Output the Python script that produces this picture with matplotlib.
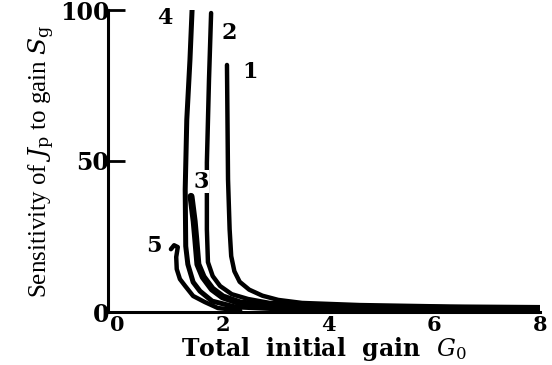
import matplotlib
matplotlib.use("Agg")
import matplotlib.pyplot as plt

plt.rcParams["mathtext.fontset"] = "dejavuserif"

# Data (G0, S_g)
g1 = [2.08, 2.10, 2.13, 2.16, 2.22, 2.32, 2.50, 2.75, 3.05, 3.50, 4.59, 6.3, 8.0]
s1 = [81.8, 43.9, 27.4, 18.5, 13.5, 10.0, 7.4, 5.4, 4.0, 3.0, 2.3, 1.8, 1.6]

g2 = [1.78, 1.74, 1.70, 1.70, 1.70, 1.72, 1.81, 1.95, 2.17, 2.48, 2.89, 4.40, 8.0]
s2 = [99.0, 76.9, 49.5, 38.3, 27.4, 16.5, 11.9, 8.6, 5.9, 4.3, 3.0, 2.0, 1.3]

g3 = [1.40, 1.46, 1.49, 1.53, 1.63, 1.80, 2.00, 2.33, 3.08, 5.35, 8.0]
s3 = [38.3, 30.0, 24.1, 15.8, 11.6, 7.6, 5.0, 3.0, 1.7, 1.0, 0.7]

g4 = [1.42, 1.38, 1.32, 1.29, 1.30, 1.34, 1.44, 1.57, 1.80, 2.23, 3.46, 8.0]
s4 = [100.0, 83.5, 63.7, 40.6, 21.8, 15.8, 9.9, 6.9, 3.6, 1.7, 0.7, 0.3]

g5 = [1.02, 1.08, 1.15, 1.12, 1.13, 1.19, 1.29, 1.44, 1.66, 1.91, 2.33]
s5 = [20.8, 22.1, 21.5, 18.2, 14.2, 10.9, 8.6, 5.3, 3.3, 1.3, 0.5]

curve_labels = ["1", "2", "3", "4", "5"]
label_pos_g = [2.51, 2.12, 1.59, 0.91, 0.70]
label_pos_s = [79.5, 92.5, 43.2, 97.4, 22.0]

xticks = [0, 2, 4, 6, 8]
yticks = [0, 50, 100]

fig = plt.figure(figsize=(5.52, 3.65), dpi=100)
ax = fig.add_axes([108/552, 53/365, 432/552, 302/365])

serif_b = dict(family="DejaVu Serif", weight="bold")

for g, s, lw in [(g1, s1, 3.2), (g2, s2, 3.2), (g3, s3, 5.0), (g4, s4, 3.6), (g5, s5, 3.2)]:
    ax.plot(g, s, color="black", lw=lw, solid_capstyle="round", solid_joinstyle="round")

for lab, gx, sy in zip(curve_labels, label_pos_g, label_pos_s):
    bb = dict(facecolor="white", edgecolor="none", pad=0.5) if lab == "3" else None
    ax.text(gx, sy, lab, ha="center", va="center", fontsize=16, bbox=bb, **serif_b)

ax.set_xlim(-0.17, 8.0)
ax.set_ylim(0, 100)
ax.set_xticks(xticks)
ax.set_yticks(yticks)
ax.set_xticklabels([str(v) for v in xticks], fontsize=15, **serif_b)
ax.set_yticklabels([str(v) for v in yticks], fontsize=17, **serif_b)
ax.tick_params(axis="x", length=0, pad=2)
ax.tick_params(axis="y", direction="in", length=12, width=2, pad=-1)

for side in ["top", "right"]:
    ax.spines[side].set_visible(False)
for side in ["left", "bottom"]:
    ax.spines[side].set_linewidth(2.2)

ax.set_xlabel("Total  initial  gain  $G_0$", fontsize=17, labelpad=0, **serif_b)
ax.set_ylabel("Sensitivity of $J_\\mathrm{p}$ to gain $S_\\mathrm{g}$", fontsize=18,
              family="Liberation Serif", labelpad=2)

fig.savefig("out.png", dpi=100)
